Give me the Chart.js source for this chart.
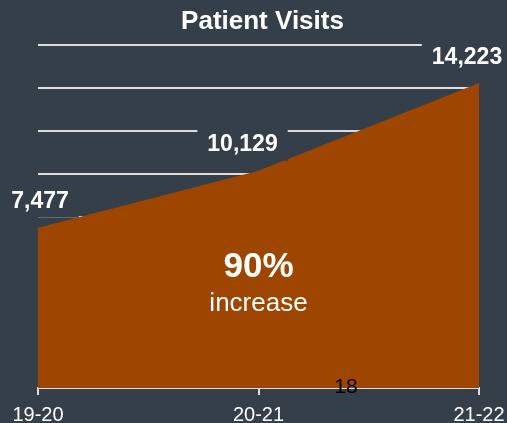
<!DOCTYPE html>
<html>
<head>
<meta charset="utf-8">
<script src="https://cdn.jsdelivr.net/npm/chart.js@4"></script>
<style>
  html, body { margin: 0; padding: 0; background: #343f4a; }
  canvas { display: block; }
</style>
</head>
<body>
<canvas id="c" width="507" height="423"></canvas>
<script>
const chartTitle = 'Patient Visits';
const categories = ['19-20', '20-21', '21-22'];
const visits = [7477, 10129, 14223];
const yMin = 0;
const yMax = 16000;
const yStep = 2000;
const centerBig = '90%';
const centerSmall = 'increase';
const strayText = '18';

const BG = '#343f4a';
const FILL = '#9e4600';
const GRID = '#dcdcdc';
const FONT = '"Liberation Sans", Arial, sans-serif';

const overlayPlugin = {
  id: 'overlay',
  afterDatasetsDraw(chart, args, opts) {
    const ctx = chart.ctx;
    const meta = chart.getDatasetMeta(0);
    const area = chart.chartArea;
    ctx.save();
    ctx.font = 'bold 23px ' + FONT;
    ctx.textAlign = 'center';
    ctx.textBaseline = 'alphabetic';
    meta.data.forEach((pt, i) => {
      const txt = visits[i].toLocaleString('en-US');
      const w = ctx.measureText(txt).width + 20;
      const h = 36;
      const cx = pt.x + opts.labelShiftX[i];
      const cy = pt.y - 28;
      ctx.fillStyle = BG;
      ctx.fillRect(cx - w / 2, cy - h / 2, w, h);
      ctx.fillStyle = '#ffffff';
      ctx.fillText(txt, cx, cy + 8.5);
    });
    const mx = (area.left + area.right) / 2;
    ctx.fillStyle = '#ffffff';
    ctx.font = 'bold 35px ' + FONT;
    ctx.fillText(centerBig, mx, 277);
    ctx.font = '26px ' + FONT;
    ctx.fillText(centerSmall, mx, 311);
    ctx.restore();
  },
  afterDraw(chart) {
    const ctx = chart.ctx;
    ctx.save();
    ctx.textAlign = 'center';
    ctx.textBaseline = 'alphabetic';
    ctx.fillStyle = '#ffffff';
    ctx.font = 'bold 26px ' + FONT;
    ctx.fillText(chartTitle, 262.5, 28.5);
    ctx.fillStyle = '#000000';
    ctx.font = '21px ' + FONT;
    ctx.fillText(strayText, 346, 393);
    ctx.restore();
  }
};

const bgPlugin = {
  id: 'bg',
  beforeDraw(chart) {
    const ctx = chart.ctx;
    ctx.save();
    ctx.fillStyle = BG;
    ctx.fillRect(0, 0, chart.width, chart.height);
    ctx.restore();
  }
};

new Chart(document.getElementById('c'), {
  type: 'line',
  data: {
    labels: categories,
    datasets: [{
      data: visits,
      fill: 'origin',
      backgroundColor: FILL,
      borderWidth: 0,
      borderColor: FILL,
      pointRadius: 0,
      pointHoverRadius: 0,
      tension: 0
    }]
  },
  options: {
    responsive: false,
    devicePixelRatio: 1,
    animation: false,
    events: [],
    layout: { padding: { top: 45, left: 38, right: 28, bottom: 0 } },
    plugins: {
      legend: { display: false },
      title: { display: false },
      tooltip: { enabled: false },
      overlay: { labelShiftX: [2, -16, -12] }
    },
    scales: {
      y: {
        min: yMin,
        max: yMax,
        ticks: { stepSize: yStep, display: false },
        grid: { color: GRID, lineWidth: 2, drawTicks: false },
        border: { display: false },
        afterFit(scale) { scale.width = 0; scale.paddingTop = 0; scale.paddingBottom = 0; }
      },
      x: {
        offset: false,
        grid: { display: true, drawOnChartArea: false, drawTicks: true, tickLength: 7, color: GRID, lineWidth: 2 },
        border: { display: true, color: GRID, width: 2 },
        ticks: {
          color: '#ffffff',
          font: { family: FONT, size: 20, lineHeight: 1 },
          padding: 10,
          maxRotation: 0,
          autoSkip: false
        },
        afterFit(scale) { scale.height = 35; scale.paddingLeft = 0; scale.paddingRight = 0; }
      }
    }
  },
  plugins: [bgPlugin, overlayPlugin]
});
</script>
</body>
</html>
